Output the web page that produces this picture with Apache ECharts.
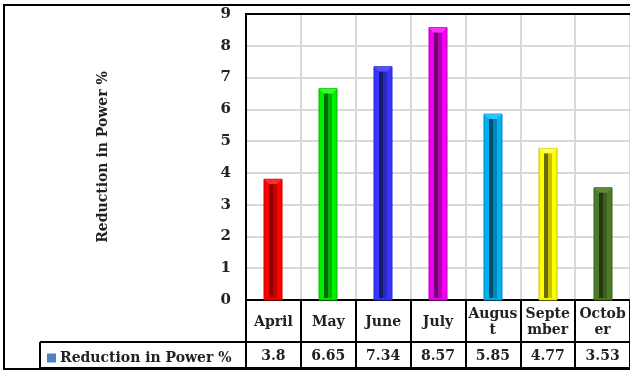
<!DOCTYPE html>
<html>
<head>
<meta charset="utf-8">
<script src="https://cdn.jsdelivr.net/npm/echarts@6/dist/echarts.min.js"></script>
<style>
  html, body { margin: 0; padding: 0; background: #fff; }
  #chart { width: 630px; height: 371px; }
</style>
</head>
<body>
<div id="chart"></div>
<script>
// Monthly reduction in power consumption (%)
const seriesName = 'Reduction in Power %';
const months = ['April', 'May', 'June', 'July', 'August', 'September', 'October'];
const monthLabels = ['April', 'May', 'June', 'July', 'Augus\nt', 'Septe\nmber', 'Octob\ner'];
const reduction = [3.8, 6.65, 7.34, 8.57, 5.85, 4.77, 3.53];
const yTicks = [0, 1, 2, 3, 4, 5, 6, 7, 8, 9];

// Face / recess / shadow shades for each bar
const barBase = ['#ff0000', '#00ee00', '#3535ff', '#f000f0', '#00b0f0', '#ffff00', '#4f7a28'];
const barMid = ['#c80000', '#00b400', '#2828c0', '#b400b4', '#0088bc', '#c4c400', '#3d601e'];
const barDark = ['#880000', '#006800', '#18186e', '#700070', '#00506e', '#6a6a00', '#223812'];
const barLight = ['#ff2a2a', '#30ff30', '#5050ff', '#ff30ff', '#30c0ff', '#ffff50', '#5f8c34'];

const FONT = '"DejaVu Serif", serif';
const GRID = { left: 246, right: 0, top: 14, bottom: 71 };

const chart = echarts.init(document.getElementById('chart'), null, { renderer: 'canvas' });

function renderBar(params, api) {
  const idx = api.value(0);
  const val = api.value(1);
  const top = api.coord([idx, val]);
  const base = api.coord([idx, 0]);
  const w = 18;
  const x = Math.round(top[0] - w / 2);
  const y = top[1];
  const h = base[1] - top[1];
  const i = params.dataIndex;
  const inset = 5;
  return {
    type: 'group',
    children: [
      { type: 'rect', shape: { x: x, y: y, width: w, height: h },
        style: { fill: barBase[i], stroke: barMid[i], lineWidth: 1 } },
      { type: 'polygon', shape: { points: [[x, y], [x + w, y], [x + w - inset, y + 5], [x + inset, y + 5]] },
        style: { fill: barLight[i] } },
      { type: 'rect', shape: { x: x + inset, y: y + 5, width: w - 2 * inset, height: h - 7 },
        style: { fill: barMid[i] } },
      { type: 'rect', shape: { x: x + inset, y: y + 5, width: (w - 2 * inset) / 2, height: h - 7 },
        style: { fill: barDark[i] } }
    ]
  };
}

const option = {
  animation: false,
  backgroundColor: '#ffffff',
  grid: GRID,
  legend: {
    show: true,
    left: 42, top: 346,
    icon: 'rect',
    itemWidth: 9, itemHeight: 9,
    itemGap: 4,
    selectedMode: false,
    textStyle: { fontFamily: FONT, fontWeight: 'bold', fontSize: 14, color: '#222', padding: [0, 0, 0, -1] },
    data: [seriesName]
  },
  xAxis: [
    {
      type: 'category',
      data: months,
      position: 'bottom',
      boundaryGap: true,
      axisLine: { show: true, lineStyle: { color: '#000', width: 2 } },
      axisTick: { show: true, interval: 0, length: 69, lineStyle: { color: '#000', width: 2 } },
      splitLine: { show: true, interval: 0, lineStyle: { color: '#d9d9d9', width: 2 } },
      axisLabel: {
        interval: 0,
        margin: 22,
        align: 'center',
        verticalAlign: 'middle',
        lineHeight: 16,
        fontFamily: FONT, fontWeight: 'bold', fontSize: 14, color: '#222',
        formatter: (v, i) => monthLabels[i]
      }
    },
    {
      type: 'category',
      data: reduction.map(String),
      position: 'bottom',
      axisLine: { show: false },
      axisTick: { show: false },
      splitLine: { show: false },
      axisLabel: {
        interval: 0,
        margin: 56,
        align: 'center',
        verticalAlign: 'middle',
        fontFamily: FONT, fontWeight: 'bold', fontSize: 14, color: '#222'
      }
    }
  ],
  yAxis: {
    type: 'value',
    min: 0, max: 9, interval: 1,
    name: seriesName,
    nameLocation: 'middle',
    nameGap: 136,
    nameRotate: 90,
    nameTextStyle: { fontFamily: FONT, fontWeight: 'bold', fontSize: 14, color: '#222' },
    axisLine: { show: true, lineStyle: { color: '#000', width: 2 } },
    axisTick: { show: false },
    splitLine: { show: true, lineStyle: { color: '#d9d9d9', width: 2 } },
    axisLabel: {
      margin: 15,
      fontFamily: FONT, fontWeight: 'bold', fontSize: 15, color: '#222',
      formatter: v => yTicks.includes(v) ? String(v) : ''
    }
  },
  series: [{
    name: seriesName,
    type: 'custom',
    xAxisIndex: 0,
    itemStyle: { color: '#4f81bd' },
    renderItem: renderBar,
    encode: { x: 0, y: 1 },
    data: reduction.map((v, i) => [i, v]),
    z: 3
  }],
  graphic: [
    // outer frame
    { type: 'rect', shape: { x: 4, y: 5, width: 640, height: 364 },
      style: { fill: null, stroke: '#000', lineWidth: 2 }, z: 10 },
    // top edge of the plot area
    { type: 'line', shape: { x1: 245, y1: 14, x2: 630, y2: 14 },
      style: { stroke: '#000', lineWidth: 2 }, z: 10 },
    // data table row separators
    { type: 'line', shape: { x1: 40, y1: 342, x2: 630, y2: 342 },
      style: { stroke: '#000', lineWidth: 2 }, z: 10 },
    { type: 'line', shape: { x1: 40, y1: 368, x2: 630, y2: 368 },
      style: { stroke: '#000', lineWidth: 2 }, z: 10 },
    { type: 'line', shape: { x1: 40, y1: 342, x2: 40, y2: 369 },
      style: { stroke: '#000', lineWidth: 2 }, z: 10 }
  ]
};

chart.setOption(option);
</script>
</body>
</html>
